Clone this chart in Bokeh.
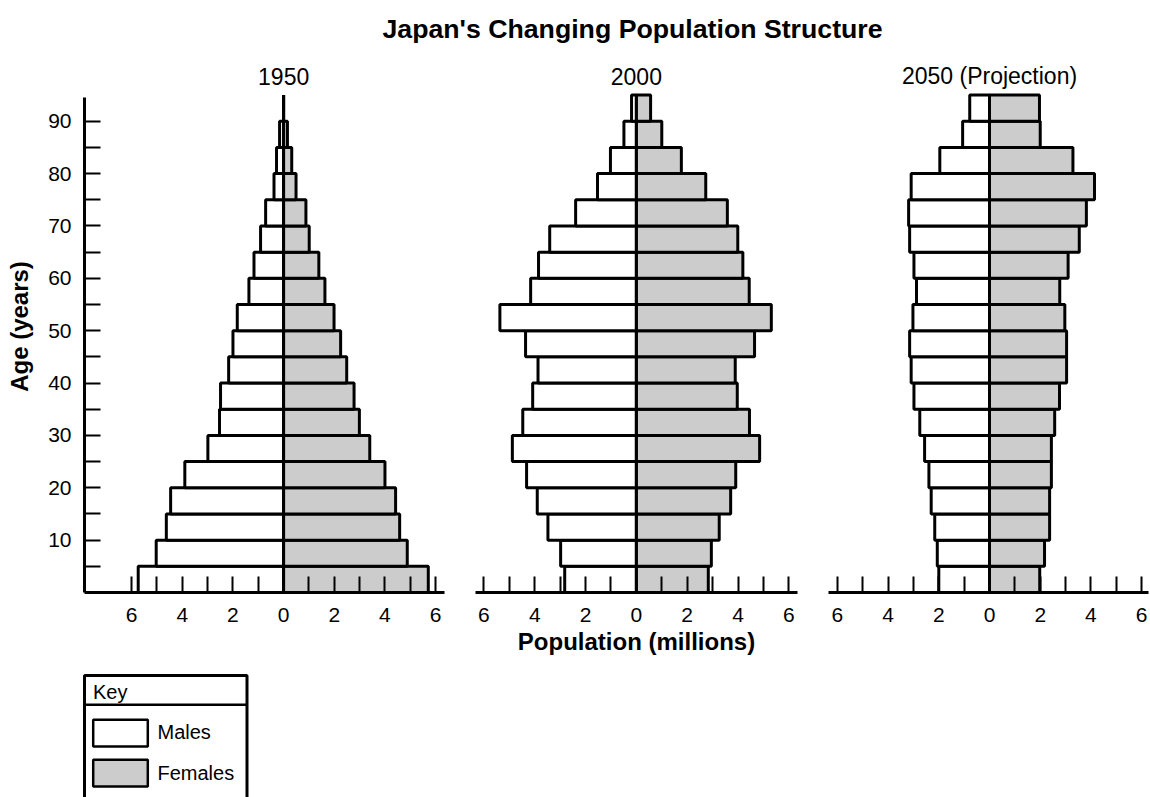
from bokeh.plotting import figure
from bokeh.models import Range1d, FixedTicker, ColumnDataSource
from bokeh.layouts import column, row
from bokeh.embed import file_html
from bokeh.resources import INLINE
from bokeh.core.properties import value

FONT = "Liberation Sans"

# ---------------- data ----------------
TITLE = "Japan's Changing Population Structure"
PANEL_TITLES = ["1950", "2000", "2050 (Projection)"]
AGE_START = [0, 5, 10, 15, 20, 25, 30, 35, 40, 45, 50, 55, 60, 65, 70, 75, 80, 85, 90]
AGE_WIDTH = 5

# population in millions, youngest group first
MALES_1950 = [5.74, 5.03, 4.63, 4.46, 3.90, 2.99, 2.53, 2.49, 2.17, 2.00,
              1.83, 1.37, 1.17, 0.91, 0.71, 0.38, 0.28, 0.16, 0.0]
FEMALES_1950 = [5.71, 4.88, 4.58, 4.42, 4.00, 3.40, 2.99, 2.78, 2.49, 2.25,
                1.99, 1.63, 1.39, 1.01, 0.88, 0.49, 0.32, 0.15, 0.0]
MALES_2000 = [2.82, 2.98, 3.48, 3.90, 4.32, 4.88, 4.47, 4.08, 3.87, 4.36,
              5.37, 4.16, 3.85, 3.41, 2.39, 1.53, 1.02, 0.49, 0.19]
FEMALES_2000 = [2.83, 2.95, 3.26, 3.71, 3.91, 4.85, 4.45, 3.97, 3.89, 4.65,
                5.31, 4.44, 4.19, 3.99, 3.58, 2.73, 1.77, 1.00, 0.56]
MALES_2050 = [2.00, 2.06, 2.16, 2.30, 2.39, 2.56, 2.75, 2.98, 3.09, 3.15,
              3.02, 2.88, 2.98, 3.15, 3.19, 3.09, 1.96, 1.06, 0.78]
FEMALES_2050 = [1.98, 2.17, 2.37, 2.37, 2.44, 2.44, 2.57, 2.76, 3.04, 3.04,
                2.97, 2.77, 3.10, 3.54, 3.82, 4.14, 3.29, 2.00, 1.97]

X_TICKS = [-6, -4, -2, 0, 2, 4, 6]
X_MINOR_TICKS = [-5, -3, -1, 1, 3, 5]
X_TICK_LABELS = {t: str(abs(t)) for t in X_TICKS}
Y_TICKS = [10, 20, 30, 40, 50, 60, 70, 80, 90]
Y_MINOR_TICKS = [5, 15, 25, 35, 45, 55, 65, 75, 85]

KEY_TITLE = "Key"
KEY_LABELS = ["Males", "Females"]
MALE_COLOR = "white"
FEMALE_COLOR = "#cccccc"

# ---------------- layout constants ----------------
Y_END = 101.6          # top of plotting frame (years)
PANEL_TITLE_Y = 98.6   # vertical centre of the panel titles (years)
AXIS_TOP = 94.6
PANEL_H = 608
BORDER_BOTTOM = 76


def style_axis(ax):
    ax.axis_line_color = "black"
    ax.axis_line_width = 3
    ax.major_tick_line_color = "black"
    ax.minor_tick_line_color = "black"
    ax.major_tick_line_width = 2
    ax.minor_tick_line_width = 2
    ax.major_tick_in = 16
    ax.major_tick_out = 0
    ax.minor_tick_in = 16
    ax.minor_tick_out = 0
    ax.major_label_text_font = FONT
    ax.major_label_text_font_size = "21px"
    ax.major_label_text_color = "black"
    ax.axis_label_text_font = FONT
    ax.axis_label_text_font_size = "24px"
    ax.axis_label_text_font_style = "bold"
    ax.axis_label_text_color = "black"


def panel(males, females, label, xr, width, bl, br, show_y=False, xlabel=None):
    p = figure(width=width, height=PANEL_H, x_range=Range1d(*xr), y_range=Range1d(0, Y_END),
               output_backend="svg", toolbar_location=None, title=None,
               y_axis_location="left" if show_y else None,
               min_border_left=bl, min_border_right=br, min_border_top=0,
               min_border_bottom=BORDER_BOTTOM)
    p.grid.visible = False
    p.outline_line_color = None
    p.background_fill_color = "white"
    n = len(AGE_START)
    src = ColumnDataSource(dict(
        bottom=AGE_START,
        top=[a + AGE_WIDTH for a in AGE_START],
        m=[-v for v in males],
        f=females,
        zero=[0] * n,
    ))
    p.quad(left="m", right="zero", bottom="bottom", top="top", source=src,
           fill_color=MALE_COLOR, line_color="black", line_width=3)
    p.quad(left="zero", right="f", bottom="bottom", top="top", source=src,
           fill_color=FEMALE_COLOR, line_color="black", line_width=3)
    p.segment(x0=[0], y0=[0], x1=[0], y1=[AGE_START[-1] + AGE_WIDTH],
              line_color="black", line_width=2.5)
    p.text(x=[0], y=[PANEL_TITLE_Y], text=[label], text_font=value(FONT),
           text_font_size=value("23px"), text_align="center",
           text_baseline="middle", text_color="black")

    xa = p.xaxis[0]
    style_axis(xa)
    xa.ticker = FixedTicker(ticks=X_TICKS, minor_ticks=X_MINOR_TICKS)
    xa.major_label_overrides = X_TICK_LABELS
    xa.major_label_standoff = 15
    if xlabel:
        xa.axis_label = xlabel
        xa.axis_label_standoff = 3

    if show_y:
        ya = p.yaxis[0]
        style_axis(ya)
        ya.ticker = FixedTicker(ticks=Y_TICKS, minor_ticks=Y_MINOR_TICKS)
        ya.bounds = (0, AXIS_TOP)
        ya.major_label_standoff = 13
        ya.axis_label = "Age (years)"
        ya.axis_label_standoff = 12
    return p


p1 = panel(MALES_1950, FEMALES_1950, PANEL_TITLES[0], (-7.86, 6.35), 460, 84, 16, show_y=True)
p2 = panel(MALES_2000, FEMALES_2000, PANEL_TITLES[1], (-6.33, 6.34), 352, 15, 15,
           xlabel="Population (millions)")
p3 = panel(MALES_2050, FEMALES_2050, PANEL_TITLES[2], (-6.35, 6.27), 338, 16, 2)

# header with main title
HEAD_H = 60
h = figure(width=1150, height=HEAD_H, x_range=Range1d(0, 1150), y_range=Range1d(HEAD_H, 0),
           output_backend="svg", toolbar_location=None, title=None,
           x_axis_location=None, y_axis_location=None, min_border=0)
h.grid.visible = False
h.outline_line_color = None
h.text(x=[632], y=[28], text=[TITLE], text_font=value(FONT), text_font_size=value("26.7px"),
       text_font_style="bold", text_align="center", text_baseline="middle",
       text_color="black")

# key box
KEY_H = 797 - HEAD_H - PANEL_H
k = figure(width=260, height=KEY_H, x_range=Range1d(0, 260), y_range=Range1d(KEY_H, 0),
           output_backend="svg", toolbar_location=None, title=None,
           x_axis_location=None, y_axis_location=None, min_border=0)
k.grid.visible = False
k.outline_line_color = None
k.quad(left=[84], right=[246.5], top=[7], bottom=[200], fill_color=None,
       line_color="black", line_width=3)
k.segment(x0=[84], y0=[36.3], x1=[246.5], y1=[36.3], line_color="black", line_width=2.5)
k.quad(left=[92.7, 92.7], right=[147.3, 147.3], top=[51.3, 91.3], bottom=[78, 118],
       fill_color=[MALE_COLOR, FEMALE_COLOR], line_color="black", line_width=2.5)
k.text(x=[92.5, 157, 157], y=[23.5, 63.8, 104], text=[KEY_TITLE] + KEY_LABELS,
       text_font=value(FONT), text_font_size=value("20px"), text_align="left",
       text_baseline="middle", text_color="black")

layout = column(h, row(p1, p2, p3), k)

open("out.html", "w").write(file_html(layout, INLINE))
